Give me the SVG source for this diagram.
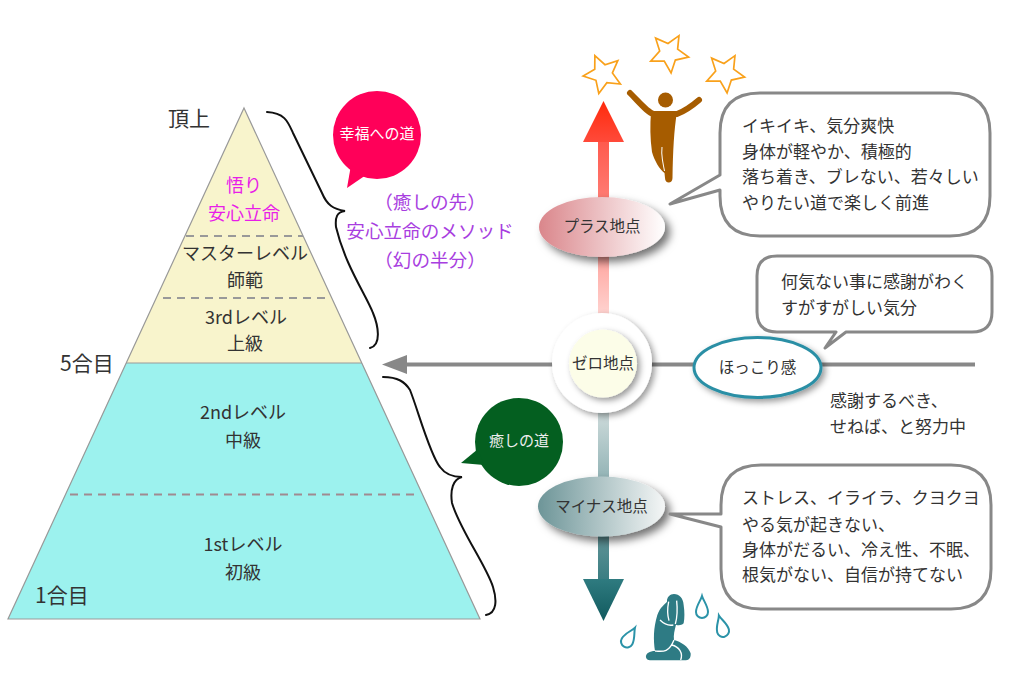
<svg xmlns="http://www.w3.org/2000/svg" width="1024" height="695" viewBox="0 0 1024 695">
<style>
text{font-family:"Noto Sans CJK JP","Noto Sans",sans-serif;fill:#333;font-size:17px}
.m{text-anchor:middle}
.t{font-size:18px}
.p{font-size:18.600px;fill:#a83ee0;text-anchor:middle}
.pk{fill:#e81ee8}
.big{font-size:21px}
.l{font-size:15.500px}
.call{fill:#fff;stroke:#888;stroke-width:3;stroke-linejoin:round}
.dash{stroke-width:2;stroke-dasharray:8 6;fill:none}
.brace{fill:none;stroke:#111;stroke-width:2;stroke-linecap:round}
.star{fill:#fff;stroke:#f9a11b;stroke-width:1.700}
.drop{fill:#fff;stroke:#2b93a8;stroke-width:2}
</style>
<defs>
<filter id="sh" x="-30%" y="-30%" width="170%" height="170%"><feDropShadow dx="5" dy="5" stdDeviation="4" flood-color="#000" flood-opacity=".55"/></filter>
<filter id="sh2" x="-30%" y="-30%" width="170%" height="170%"><feDropShadow dx="3" dy="3" stdDeviation="3" flood-color="#000" flood-opacity=".4"/></filter>
<linearGradient id="gPlus"><stop offset="0" stop-color="#da868b"/><stop offset="1" stop-color="#fff"/></linearGradient>
<linearGradient id="gMinus"><stop offset="0" stop-color="#6d9598"/><stop offset="1" stop-color="#f4f6f6"/></linearGradient>
<linearGradient id="gUp" x1="0" y1="0" x2="0" y2="1"><stop offset="0" stop-color="#ff5a4e"/><stop offset=".5" stop-color="#ff8f88"/><stop offset="1" stop-color="#ffd5d2"/></linearGradient>
<linearGradient id="gUpH" x1="0" y1="0" x2="0" y2="1"><stop offset="0" stop-color="#ff2a0c"/><stop offset="1" stop-color="#ff4a3a"/></linearGradient>
<linearGradient id="gDn" x1="0" y1="0" x2="0" y2="1"><stop offset="0" stop-color="#cfdcdc"/><stop offset=".55" stop-color="#7da5a8"/><stop offset="1" stop-color="#3a7d82"/></linearGradient>
<linearGradient id="gDnH" x1="0" y1="0" x2="0" y2="1"><stop offset="0" stop-color="#2f7b80"/><stop offset="1" stop-color="#115a5e"/></linearGradient>
<polygon id="star" points="0,-20 5.600,-7.700 19,-6.200 9,2.900 11.800,16.200 0,9.500 -11.800,16.200 -9,2.900 -19,-6.200 -5.600,-7.700"/>
<path id="drop" d="M0-12C1.500-7 6-2 6 4A6 6 0 0 1-6 4C-6-2-1.500-7 0-12Z"/>
</defs>
<rect width="1024" height="695" fill="#fff"/>
<g id="pyramid">
<polygon points="244,108 362,363 126,363" fill="#f8f4cc"/>
<polygon points="126,363 362,363 480,619 8,619" fill="#9cf2ee"/>
<polygon points="244,108 480,619 8,619" fill="none" stroke="#999" stroke-width="1.200"/>
<line x1="126" y1="363" x2="362" y2="363" stroke="#999" stroke-width="1.200"/>
<line class="dash" x1="186" y1="236" x2="303" y2="236" stroke="#999"/>
<line class="dash" x1="163" y1="298" x2="328" y2="298" stroke="#999"/>
<line class="dash" x1="70" y1="494.500" x2="415" y2="494.500" stroke="#a08a90"/>
<text class="m t pk" x="244" y="192">悟り</text>
<text class="m t pk" x="244" y="220">安心立命</text>
<text class="m t" x="245" y="260">マスターレベル</text>
<text class="m t" x="245" y="287">師範</text>
<text class="m t" x="246" y="324">3rdレベル</text>
<text class="m t" x="245" y="350">上級</text>
<text class="m t" x="243" y="419">2ndレベル</text>
<text class="m t" x="243" y="447">中級</text>
<text class="m t" x="243" y="551">1stレベル</text>
<text class="m t" x="243" y="579">初級</text>
<text x="168" y="126" class="big">頂上</text>
<text x="60" y="371" class="big">5合目</text>
<text x="35" y="603" class="big">1合目</text>
</g>
<g id="connectors">
<rect x="598" y="142" width="11" height="175" fill="url(#gUp)"/>
<polygon points="603.500,101 624,142 583,142" fill="url(#gUpH)"/>
<rect x="598" y="410" width="11" height="170" fill="url(#gDn)"/>
<polygon points="583,579 624,579 603.500,621" fill="url(#gDnH)"/>
<line x1="405" y1="364.500" x2="975" y2="364.500" stroke="#888" stroke-width="4"/>
<polygon points="382,364.500 407,355 407,374" fill="#888"/>
<path class="brace" d="M267 112C285 113 288 122 293 133L322 193C327 205 333 209 345 211C337 212 335 217 336 227C345 265 366 295 373 313C378 325 382 345 370 348"/>
<path class="brace" d="M383 377C398 377 405 382 410 390C418 410 430 455 440 467C445 474 452 477 462 477C453 479 450 490 452 503C460 530 486 565 493 587C497 600 497 613 486 615"/>
</g>
<g id="stars">
<use href="#star" class="star" transform="translate(603,74) rotate(-24)"/>
<use href="#star" class="star" transform="translate(669,53) rotate(-42)"/>
<use href="#star" class="star" transform="translate(725,73) rotate(-42)"/>
</g>
<g id="jumper" fill="#a65c00">
<circle cx="665.500" cy="100" r="7.500"/>
<path d="M630 93C640 103 648 113 654 114L677 114C685 111 692 106 699 100" fill="none" stroke="#a65c00" stroke-width="6" stroke-linecap="round" stroke-linejoin="round"/>
<path d="M651 112L677 112C674 130 673 150 672.500 178C672.500 184 665 184 665 178L664.500 173C660 170 654 160 652 152C650 138 650 125 651 112Z"/>
<path d="M662 147C661 155 663 163 664.500 171" fill="none" stroke="#fff" stroke-width="1"/>
</g>
<g id="bubble-happy">
<circle cx="377" cy="135" r="44" fill="#ff0059"/>
<polygon points="351,165 347,188 366,175" fill="#ff0059"/>
<text class="m" x="377" y="139" style="font-size:15px;fill:#fff">幸福への道</text>
</g>
<g id="note-goal">
<text class="p" x="430" y="209">（癒しの先）</text>
<text class="p" x="430" y="238">安心立命のメソッド</text>
<text class="p" x="430" y="267">（幻の半分）</text>
</g>
<g id="bubble-heal">
<circle cx="519" cy="442" r="44" fill="#045f20"/>
<polygon points="478,449 461,463 484,465" fill="#045f20"/>
<text class="m" x="519" y="446" style="font-size:15px;fill:#eee">癒しの道</text>
</g>
<g id="plus">
<ellipse cx="602" cy="227" rx="63" ry="30" fill="url(#gPlus)" filter="url(#sh)"/>
<text class="m l" x="602" y="232">プラス地点</text>
</g>
<g id="zero">
<circle cx="602" cy="363" r="50" fill="#fff" filter="url(#sh2)"/>
<circle cx="603" cy="363.500" r="34" fill="#fcfde8" filter="url(#sh2)"/>
<text class="m l" x="603" y="369">ゼロ地点</text>
</g>
<g id="minus">
<ellipse cx="601.500" cy="506.500" rx="63.500" ry="30" fill="url(#gMinus)" filter="url(#sh)"/>
<text class="m l" x="601.500" y="512">マイナス地点</text>
</g>
<g id="callout-plus">
<path class="call" d="M760 93L950 93Q990 93 990 133L990 196Q990 236 950 236L760 236Q720 236 720 196L720 190L670 204L720 175L720 133Q720 93 760 93Z"/>
<text x="742" y="132">イキイキ、気分爽快</text>
<text x="742" y="158">身体が軽やか、積極的</text>
<text x="742" y="183">落ち着き、ブレない、若々しい</text>
<text x="742" y="209">やりたい道で楽しく前進</text>
</g>
<g id="callout-calm">
<path class="call" d="M777 256L972 256Q992 256 992 276L992 312Q992 332 972 332L846 332L825 348L836 332L777 332Q757 332 757 312L757 276Q757 256 777 256Z"/>
<text x="781" y="288">何気ない事に感謝がわく</text>
<text x="781" y="314">すがすがしい気分</text>
</g>
<g id="hokkori">
<ellipse cx="757.500" cy="367.500" rx="63.500" ry="30" fill="#fff" stroke="#2b8fa5" stroke-width="3" filter="url(#sh2)"/>
<text class="m l" x="757.500" y="373">ほっこり感</text>
</g>
<g id="note-effort">
<text x="830" y="407">感謝するべき、</text>
<text x="830" y="433">せねば、と努力中</text>
</g>
<g id="callout-minus">
<path class="call" d="M761 465L951 465Q991 465 991 505L991 569Q991 609 951 609L761 609Q721 609 721 569L721 527L670 514L721 514L721 505Q721 465 761 465Z"/>
<text x="742" y="504">ストレス、イライラ、クヨクヨ</text>
<text x="742" y="531">やる気が起きない、</text>
<text x="742" y="556">身体がだるい、冷え性、不眠、</text>
<text x="742" y="581">根気がない、自信が持てない</text>
</g>
<g id="crying">
<g transform="translate(520,470) scale(.3333)">
<path d="M378 562C376 550 390 543 405 543C400 510 400 475 412 435C420 412 435 402 441 395C440 382 450 372 462 372C478 372 490 385 491 405C494 425 494 445 491 460C484 467 474 467 468 464C464 480 460 495 462 510C482 515 506 530 512 550C513 562 508 571 498 571L390 571C384 571 379 568 378 562Z" fill="#2e7b84"/>
<path d="M446 395C442 415 442 435 447 452M470 392C473 420 471 445 466 462M420 450C432 462 445 468 460 465M405 543C430 545 447 548 462 510M455 525C478 530 490 550 482 570" fill="none" stroke="#fff" stroke-width="4"/>
</g>
<use href="#drop" class="drop" transform="translate(702,608)"/>
<use href="#drop" class="drop" transform="translate(722,627) rotate(-15)"/>
<use href="#drop" class="drop" transform="translate(629,638) rotate(30)"/>
</g>
</svg>
